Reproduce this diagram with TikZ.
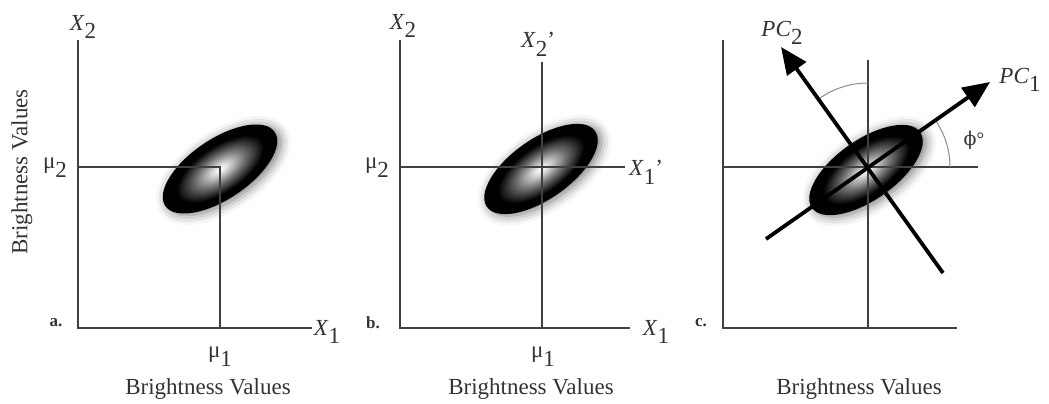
\documentclass[tikz,border=0pt]{standalone}
\usepackage{fontspec}
\setmainfont{Liberation Serif}
\newfontfamily\phifont{DejaVu Serif}
\usetikzlibrary{arrows.meta,shadows.blur}
\definecolor{axisgray}{gray}{0.25}
\definecolor{labgray}{gray}{0.2}
\newcommand\lowsub[1]{\raisebox{-0.38em}{#1}}
\pgfdeclareradialshading{blobshade}{\pgfpoint{0bp}{0bp}}{%
  color(0bp)=(white); color(3bp)=(white!88!black); color(11bp)=(black!58);
  color(19bp)=(black); color(25bp)=(black); color(50bp)=(black)}

\begin{document}
\begin{tikzpicture}[x=1pt,y=-1pt,
  axis/.style={draw=axisgray,line width=2.2pt},
  pcarrow/.style={line width=3.8pt,-{Triangle[length=27pt,width=23pt]}},
  anglearc/.style={draw=black!45,line width=1pt},
  lab/.style={text=labgray,inner sep=0pt,font=\fontsize{23}{26}\selectfont},
  tag/.style={text=labgray,inner sep=0pt,font=\fontsize{17}{20}\selectfont\bfseries},
  blob/.style={shading=blobshade,
    blur shadow={shadow xshift=2pt,shadow yshift=-3pt,shadow blur radius=10pt,shadow opacity=55}}]
\useasboundingbox (0,0) rectangle (1049,404);

% panel a
\coordinate (aT) at (78,40);
\coordinate (aR) at (312,328);
\coordinate (aY) at (78,167);
\coordinate (aX) at (220,328);
\coordinate (aM) at (220,169);
\begin{scope}[transform canvas={shift={(aM)},rotate=34}]
  \shade[blob] (0,0) ellipse (66 and 30);
\end{scope}
\draw[axis] (aT) |- (aR);
\draw[axis] (aY) -| (aX);
\node[lab] (aX2) at (83,27) {\textit{X}\lowsub{2}};
\node[lab] (aX1) at (327,332) {\textit{X}\lowsub{1}};
\node[lab] (amu2) at (55,168) {μ\lowsub{2}};
\node[lab] (amu1) at (220,357) {μ\lowsub{1}};
\node[tag] (atag) at (56,323) {a.};
\node[lab] (abx) at (208,389) {Brightness Values};
\node[lab,rotate=90] (aby) at (22,172) {Brightness Values};

% panel b
\coordinate (bT) at (400,40);
\coordinate (bR) at (630,328);
\coordinate (bY) at (400,167);
\coordinate (bYe) at (625,167);
\coordinate (bXt) at (542,62);
\coordinate (bX) at (542,328);
\coordinate (bM) at (541,169);
\begin{scope}[transform canvas={shift={(bM)},rotate=35}]
  \shade[blob] (0,0) ellipse (66 and 30);
\end{scope}
\draw[axis] (bT) |- (bR);
\draw[axis] (bY) -- (bYe);
\draw[axis] (bXt) -- (bX);
\node[lab] (bX2) at (403,26) {\textit{X}\lowsub{2}};
\node[lab] (bX2p) at (538,44) {\textit{X}\lowsub{2}'};
\node[lab] (bX1p) at (646,172) {\textit{X}\lowsub{1}'};
\node[lab] (bX1) at (656,332) {\textit{X}\lowsub{1}};
\node[lab] (bmu2) at (377,168) {μ\lowsub{2}};
\node[lab] (bmu1) at (543,357) {μ\lowsub{1}};
\node[tag] (btag) at (373,323) {b.};
\node[lab] (bbx) at (531,389) {Brightness Values};

% panel c
\coordinate (cT) at (723,40);
\coordinate (cR) at (957,328);
\coordinate (cY) at (723,167);
\coordinate (cYe) at (978,167);
\coordinate (cXt) at (868,60);
\coordinate (cX) at (868,328);
\coordinate (cM) at (866,170);
\coordinate (pc1s) at (766,239);
\coordinate (pc1e) at (990,82);
\coordinate (pc2s) at (943,273);
\coordinate (pc2e) at (781,47);
\begin{scope}[transform canvas={shift={(cM)},rotate=35}]
  \shade[blob] (0,0) ellipse (66 and 30);
\end{scope}
\draw[axis] (cT) |- (cR);
\draw[axis] (cY) -- (cYe);
\draw[axis] (cXt) -- (cX);
\draw[anglearc] (950,167) arc[start angle=0,end angle=-35,radius=82];
\draw[anglearc] (868,83) arc[start angle=-90,end angle=-125,radius=84];
\draw[pcarrow] (pc1s) -- (pc1e);
\draw[pcarrow] (pc2s) -- (pc2e);
\node[lab] (cpc2) at (782,33) {\textit{PC}\lowsub{2}};
\node[lab] (cpc1) at (1020,80) {\textit{PC}\lowsub{1}};
\node[lab,font=\fontsize{19}{24}\selectfont] (cphi) at (974,140) {{\phifont ϕ}°};
\node[tag] (ctag) at (701,323) {c.};
\node[lab] (cbx) at (859,389) {Brightness Values};
\end{tikzpicture}
\end{document}
